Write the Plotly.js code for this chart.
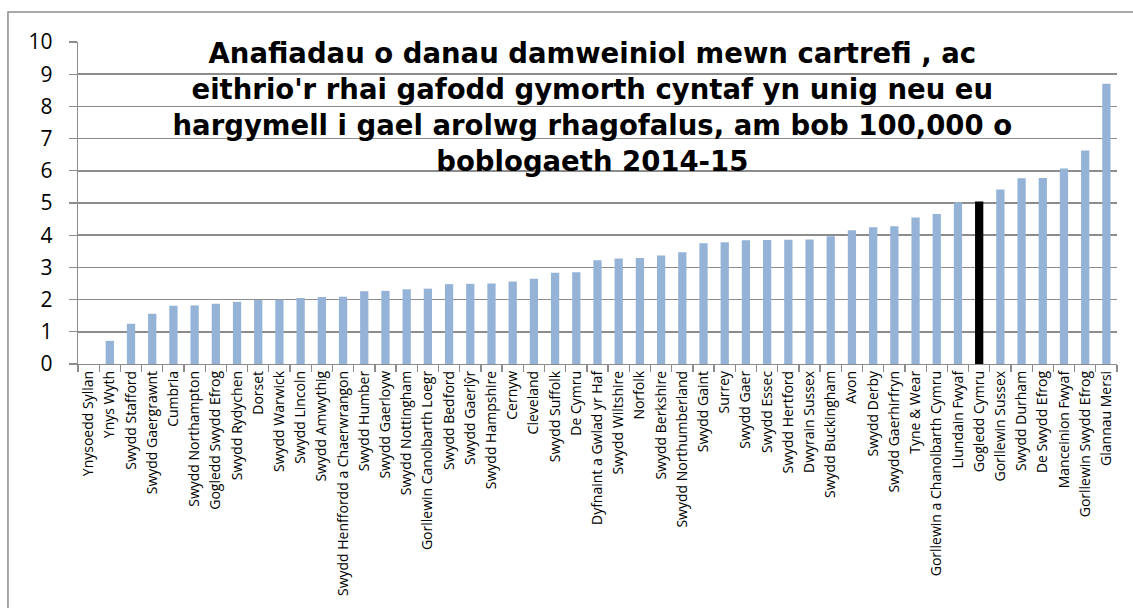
<!DOCTYPE html>
<html>
<head>
<meta charset="utf-8">
<script src="https://cdn.plot.ly/plotly-3.0.1.min.js"></script>
<style>html,body{margin:0;padding:0;background:#fff;}#chart{width:1133px;height:608px;}</style>
</head>
<body>
<div id="chart"></div>
<script>
const categories = [
  "Ynysoedd Syllan","Ynys Wyth","Swydd Stafford","Swydd Gaergrawnt","Cumbria",
  "Swydd Northampton","Gogledd Swydd Efrog","Swydd Rydychen","Dorset","Swydd Warwick",
  "Swydd Lincoln","Swydd Amwythig","Swydd Henffordd a Chaerwrangon","Swydd Humber","Swydd Gaerloyw",
  "Swydd Nottingham","Gorllewin Canolbarth Loegr","Swydd Bedford","Swydd Gaerlŷr","Swydd Hampshire",
  "Cernyw","Cleveland","Swydd Suffolk","De Cymru","Dyfnaint a Gwlad yr Haf",
  "Swydd Wiltshire","Norfolk","Swydd Berkshire","Swydd Northumberland","Swydd Gaint",
  "Surrey","Swydd Gaer","Swydd Essec","Swydd Hertford","Dwyrain Sussex",
  "Swydd Buckingham","Avon","Swydd Derby","Swydd Gaerhirfryn","Tyne & Wear",
  "Gorllewin a Chanolbarth Cymru","Llundain Fwyaf","Gogledd Cymru","Gorllewin Sussex","Swydd Durham",
  "De Swydd Efrog","Manceinion Fwyaf","Gorllewin Swydd Efrog","Glannau Mersi"
];
const values = [
  0, 0.72, 1.25, 1.56, 1.81,
  1.82, 1.87, 1.93, 1.99, 2.00,
  2.05, 2.08, 2.09, 2.26, 2.27,
  2.32, 2.34, 2.48, 2.49, 2.50,
  2.56, 2.65, 2.83, 2.85, 3.22,
  3.28, 3.29, 3.37, 3.47, 3.75,
  3.78, 3.84, 3.85, 3.86, 3.87,
  3.97, 4.15, 4.25, 4.28, 4.55,
  4.66, 5.02, 5.05, 5.42, 5.77,
  5.78, 6.07, 6.63, 8.70
];
const highlightCategory = "Gogledd Cymru";
const titleText = "Anafiadau o danau damweiniol mewn cartrefi , ac<br>eithrio'r rhai gafodd gymorth cyntaf yn unig neu eu<br>hargymell i gael arolwg rhagofalus, am bob 100,000 o<br>boblogaeth 2014-15";

const barColors = categories.map(c => c === highlightCategory ? "#000000" : "#95B3D7");

const trace = {
  type: "bar",
  x: categories,
  y: values,
  marker: {color: barColors, line: {width: 0}},
  hoverinfo: "x+y"
};

const layout = {
  width: 1133, height: 608,
  margin: {l: 78, r: 16, t: 42, b: 244, pad: 0},
  paper_bgcolor: "#ffffff",
  plot_bgcolor: "#ffffff",
  bargap: 0.61,
  showlegend: false,
  font: {family: "Open Sans, sans-serif", color: "#000000"},
  title: {
    text: titleText,
    font: {family: "DejaVu Sans, sans-serif", size: 27.5, color: "#000000", weight: "bold"},
    xref: "paper", x: 0.495, xanchor: "center",
    yref: "paper", y: 0.934, yanchor: "middle"
  },
  xaxis: {
    type: "category",
    tickangle: -90,
    tickfont: {size: 14, color: "#000000"},
    ticks: "outside", ticklen: 7, tickcolor: "#8c8c8c", tickwidth: 1.3,
    tickson: "boundaries",
    showgrid: false,
    showline: true, linecolor: "#8c8c8c", linewidth: 1.3,
    zeroline: false,
    automargin: false
  },
  yaxis: {
    range: [0, 10],
    dtick: 1,
    tickfont: {size: 21, color: "#000000"},
    ticks: "outside", ticklen: 8, tickcolor: "#8c8c8c", tickwidth: 1.3,
    ticklabelstandoff: 12,
    showgrid: true, gridcolor: "#8c8c8c", gridwidth: 1.5,
    showline: true, linecolor: "#8c8c8c", linewidth: 1.3,
    zeroline: false,
    automargin: false
  },
  shapes: [{
    type: "rect", xref: "paper", yref: "paper",
    x0: -0.0674, x1: 1.06, y0: -0.8, y1: 1.0932,
    line: {color: "#8c8c8c", width: 1.5},
    fillcolor: "rgba(0,0,0,0)", layer: "below"
  }]
};

Plotly.newPlot("chart", [trace], layout, {displayModeBar: false, staticPlot: true});
</script>
</body>
</html>
